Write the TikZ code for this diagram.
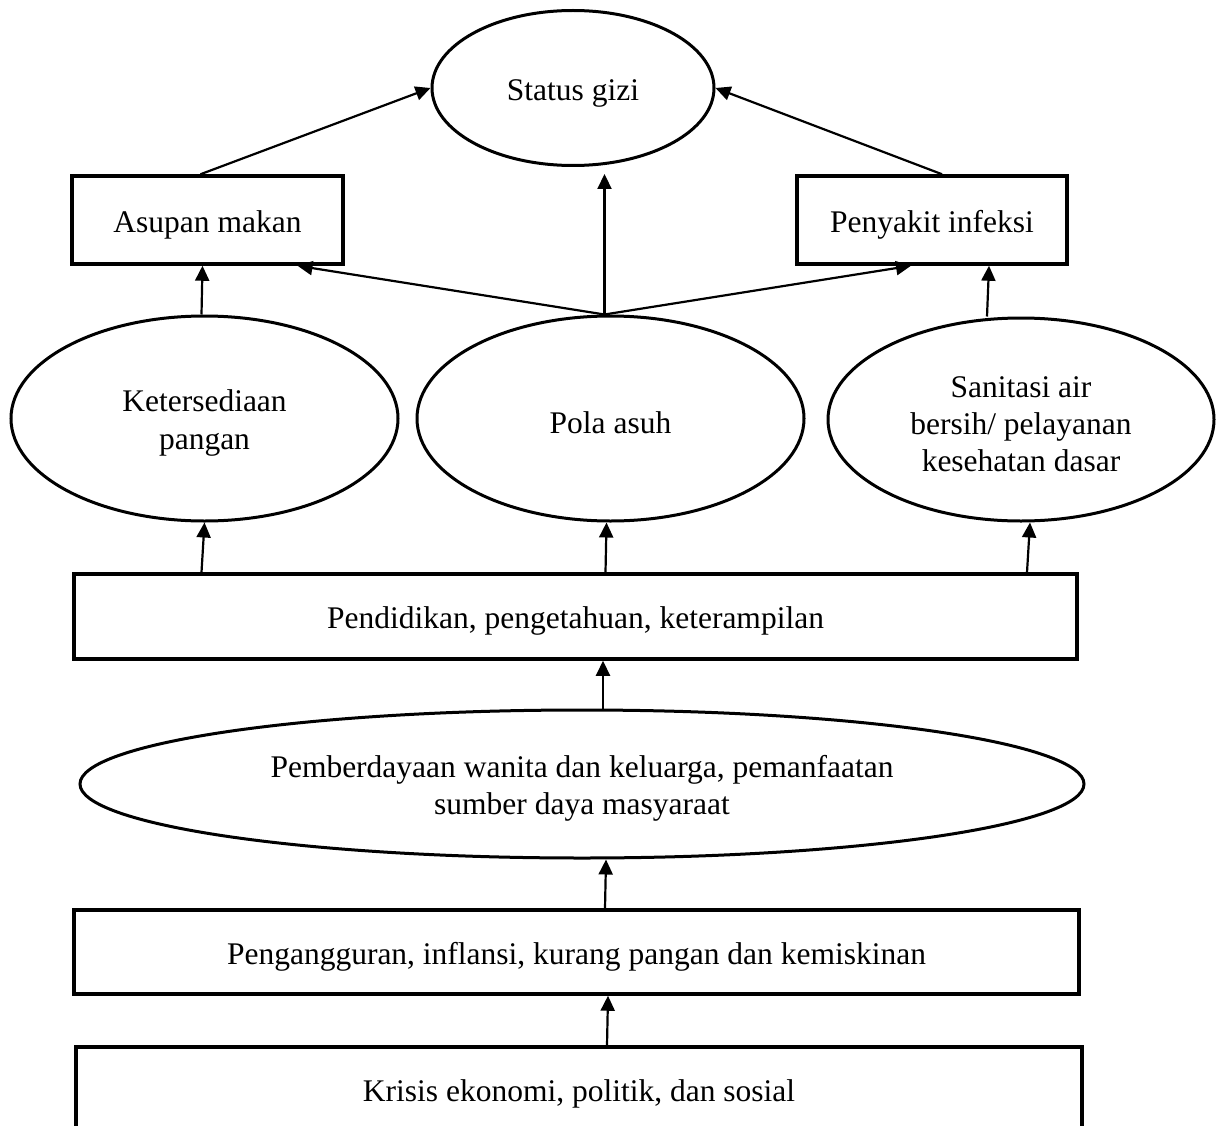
\documentclass[tikz,border=0pt]{standalone}
\usepackage{fontspec}
\setmainfont{Liberation Serif}
\usetikzlibrary{arrows.meta,shapes.geometric,calc}
\begin{document}
\begin{tikzpicture}[x=1pt,y=-1pt,
  box/.style={draw, line width=3.5pt, rectangle, inner sep=0pt, align=center},
  oval/.style={draw, line width=3pt, ellipse, inner sep=0pt, align=center},
  arr/.style={line width=2.2pt, -{Triangle[length=15pt,width=14pt]}},
  execute at begin node={\rule{0pt}{31pt}},
  font=\fontsize{31.5}{38}\selectfont]
\useasboundingbox (0,0) rectangle (1225,1126);
\node[oval, minimum width=282pt, minimum height=155pt] (sg) at (573,88) {Status gizi};
\node[box, minimum width=271pt, minimum height=88pt] (asu) at (207.5,220) {Asupan makan};
\node[box, minimum width=270pt, minimum height=88pt] (pen) at (932,220) {Penyakit infeksi};
\node[oval, minimum width=387pt, minimum height=205pt] (ket) at (204.5,418.5) {\rule{0pt}{31pt}Ketersediaan\\pangan};
\node[oval, minimum width=387pt, minimum height=205pt] (pol) at (610.5,418.5) {Pola asuh};
\node[oval, minimum width=386pt, minimum height=203pt, font=\fontsize{31.5}{37}\selectfont] (san) at (1021,419.5) {\rule{0pt}{31pt}Sanitasi air\\bersih/ pelayanan\\kesehatan dasar};
\node[box, minimum width=1003pt, minimum height=85pt] (pdk) at (575.5,616.5) {Pendidikan, pengetahuan, keterampilan};
\node[oval, minimum width=1004pt, minimum height=148pt, font=\fontsize{31.5}{37}\selectfont] (pmb) at (582,784) {\rule{0pt}{31pt}Pemberdayaan wanita dan keluarga, pemanfaatan\\sumber daya masyaraat};
\node[box, minimum width=1005pt, minimum height=84pt] (png) at (576.5,952) {Pengangguran, inflansi, kurang pangan dan kemiskinan};
\node[box, minimum width=1006pt, minimum height=84pt] (kri) at (579,1089) {Krisis ekonomi, politik, dan sosial};
% top level
\draw[arr] ($(asu.north)+(-7,0)$) -- (sg.west);
\draw[arr] ($(pen.north)+(10,0)$) -- (sg.east);
\coordinate (pt) at ($(pol.north)+(-6,0)$);
\draw[arr, shorten >=7pt] (pt) -- (pt |- sg.south);
\draw[arr] (pt) -- ($(asu.south)+(90,0)$);
\draw[arr] (pt) -- ($(pen.south)+(-21,0)$);
\draw[arr] ($(ket.north)+(-3,0)$) -- ($(asu.south)+(-5,0)$);
\draw[arr] ($(san.north)+(-34,0)$) -- ($(pen.south)+(57,0)$);
% Pendidikan to ellipses
\draw[arr] ($(ket.south |- pdk.north)+(-3,0)$) -- (ket.south);
\draw[arr] ($(pol.south |- pdk.north)+(-5,0)$) -- ($(pol.south)+(-4,0)$);
\draw[arr] ($(san.south |- pdk.north)+(6,0)$) -- ($(san.south)+(9,0)$);
% lower chain
\coordinate (a1) at ($(pmb.north)+(21,0)$);
\draw[arr] (a1) -- (a1 |- pdk.south);
\draw[arr] ($(png.north)+(28.5,0)$) -- ($(pmb.south)+(24,0)$);
\draw[arr] ($(kri.north)+(28,0)$) -- ($(png.south)+(31.5,0)$);
\end{tikzpicture}
\end{document}
